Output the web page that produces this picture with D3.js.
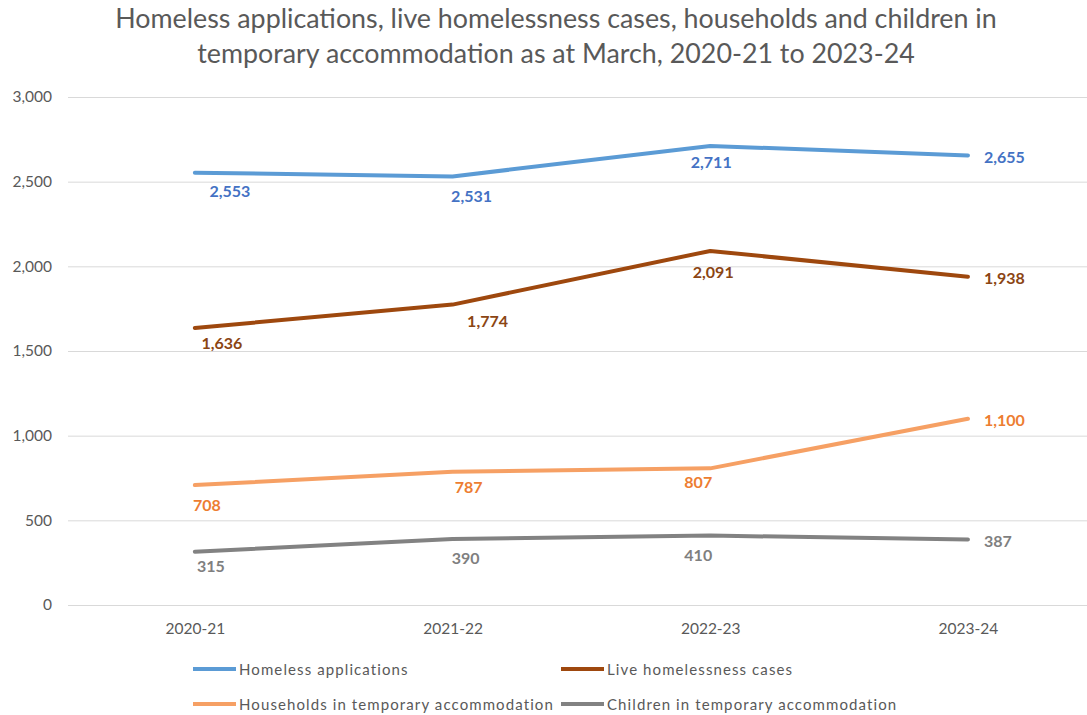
<!DOCTYPE html>
<html>
<head>
<meta charset="utf-8">
<script src="https://cdn.jsdelivr.net/npm/d3@7"></script>
<style>
  html, body { margin: 0; padding: 0; background: #ffffff; }
  svg { display: block; font-family: Lato, "Open Sans", sans-serif; }
</style>
</head>
<body>
<svg id="chart" width="1087" height="715"></svg>
<script>
// Years (as at March)
const years = ["2020-21", "2021-22", "2022-23", "2023-24"];

// Series values
const homelessApplications = [2553, 2531, 2711, 2655];
const liveCases = [1636, 1774, 2091, 1938];
const householdsInTA = [708, 787, 807, 1100];
const childrenInTA = [315, 390, 410, 387];

const seriesNames = [
  "Homeless applications",
  "Live homelessness cases",
  "Households in temporary accommodation",
  "Children in temporary accommodation"
];

const yTicks = [0, 500, 1000, 1500, 2000, 2500, 3000];

const titleLines = [
  "Homeless applications, live homelessness cases, households and children in",
  "temporary accommodation as at March, 2020-21 to 2023-24"
];

// Styling per series
const lineColors = ["#5B9BD5", "#9E480E", "#F6A064", "#828282"];
const labelColors = ["#4472C4", "#8B4513", "#ED7D31", "#7F7F7F"];

// Value-label nudges (dx, dy from the point); last point sits to the right
const labelNudges = [
  [[35, 18], [19, 19], [1, 16], null],
  [[27, 15], [35, 16], [3, 21], null],
  [[12, 19], [16, 15], [-12, 13], null],
  [[16, 14], [13, 19], [-12, 19], null]
];

const data = [homelessApplications, liveCases, householdsInTA, childrenInTA];

const svg = d3.select("#chart");
const fmt = d3.format(",");

const margin = { left: 66, top: 97, bottom: 605 };
const bandW = 257.7;

const x = d3.scalePoint()
  .domain(years)
  .range([margin.left + bandW / 2, margin.left + bandW * 3.5]);

const y = d3.scaleLinear().domain([0, 3000]).range([margin.bottom, margin.top]);

const textGrey = "#595959";

// Title, fitted to its width
const titleWidth = 882;
const title = svg.append("g");
titleLines.forEach((t, i) => {
  title.append("text")
    .attr("x", 556)
    .attr("y", 28 + i * 35)
    .attr("text-anchor", "middle")
    .attr("fill", textGrey)
    .style("font-family", "Lato, sans-serif")
    .style("font-weight", 400)
    .style("font-size", "24px")
    .text(t);
});
{
  const first = title.select("text").node();
  const w = first.getComputedTextLength();
  const fs = 24 * titleWidth / w;
  title.selectAll("text").style("font-size", fs + "px");
}

// Gridlines and y axis labels
const yAxis = d3.axisLeft(y)
  .tickValues(yTicks)
  .tickFormat(fmt)
  .tickSize(-(1087 - margin.left))
  .tickPadding(16);

const yg = svg.append("g")
  .attr("transform", `translate(${margin.left + 2},0)`)
  .call(yAxis);
yg.select(".domain").remove();
yg.selectAll(".tick line").attr("stroke", "#D9D9D9").attr("stroke-width", 1);
yg.selectAll(".tick text")
  .attr("fill", textGrey)
  .style("font-size", "15.5px")
  .style("font-family", "Lato, sans-serif");

// X axis labels
const xAxis = d3.axisBottom(x).tickSize(0).tickPadding(18);
const xg = svg.append("g")
  .attr("transform", `translate(0,${margin.bottom})`)
  .call(xAxis);
xg.select(".domain").remove();
xg.selectAll(".tick text")
  .attr("fill", textGrey)
  .style("font-size", "15.5px")
  .style("font-family", "Lato, sans-serif");

// Lines
const line = d3.line()
  .x((d, i) => x(years[i]))
  .y(d => y(d));

data.forEach((vals, s) => {
  svg.append("path")
    .datum(vals)
    .attr("d", line)
    .attr("fill", "none")
    .attr("stroke", lineColors[s])
    .attr("stroke-width", 4)
    .attr("stroke-linejoin", "round")
    .attr("stroke-linecap", "round");
});

// Value labels
data.forEach((vals, s) => {
  vals.forEach((v, i) => {
    const nudge = labelNudges[s][i];
    const px = x(years[i]);
    const py = y(v);
    const t = svg.append("text")
      .attr("fill", labelColors[s])
      .style("font-weight", 700)
      .style("font-size", "16px")
      .attr("dominant-baseline", "central")
      .text(fmt(v));
    if (nudge) {
      t.attr("x", px + nudge[0]).attr("y", py + nudge[1]).attr("text-anchor", "middle");
    } else {
      t.attr("x", px + 16).attr("y", py + 1).attr("text-anchor", "start");
    }
  });
});

// Legend
const legendPos = [[193, 669], [561, 669], [193, 704], [561, 704]];
seriesNames.forEach((name, s) => {
  const [lx, ly] = legendPos[s];
  const g = svg.append("g").attr("transform", `translate(${lx},${ly})`);
  g.append("line")
    .attr("x1", 0).attr("x2", 43)
    .attr("y1", 0).attr("y2", 0)
    .attr("stroke", lineColors[s])
    .attr("stroke-width", 4);
  g.append("text")
    .attr("x", 46)
    .attr("y", 0)
    .attr("dominant-baseline", "central")
    .attr("fill", textGrey)
    .style("font-size", "15px")
    .style("letter-spacing", "1.1px")
    .text(name);
});
</script>
</body>
</html>
